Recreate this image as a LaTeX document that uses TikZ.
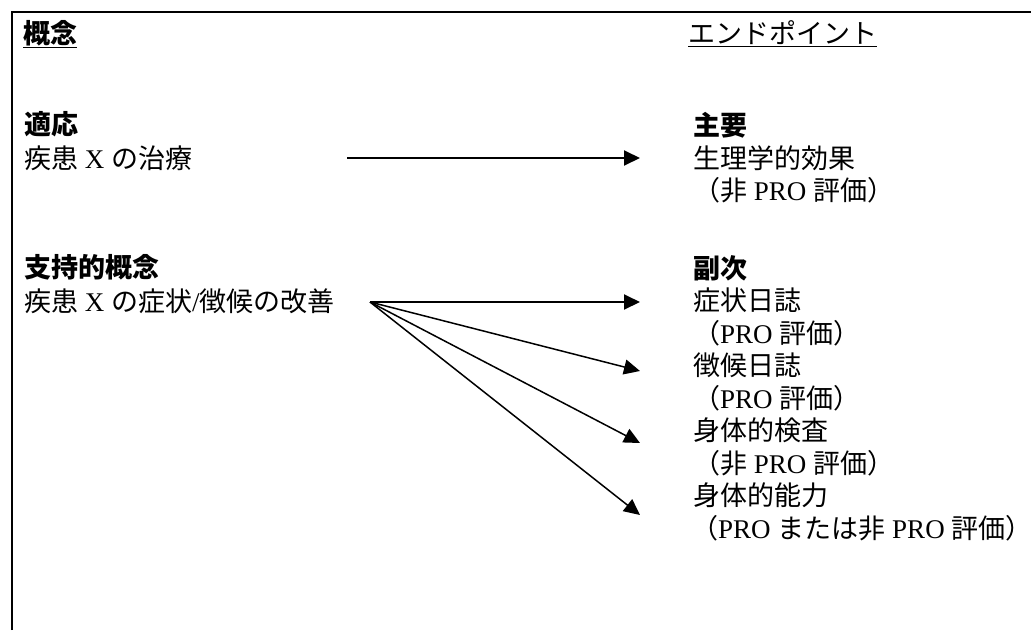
\documentclass[tikz,border=0pt]{standalone}
\usepackage{fontspec}
\setmainfont{Liberation Serif}
\newfontfamily\jp{Noto Sans CJK JP}
\usetikzlibrary{arrows.meta}
\begin{document}
\begin{tikzpicture}[x=1pt,y=-1pt,
  txt/.style={anchor=west,inner sep=0pt,font=\fontsize{27}{32}\selectfont},
  hd/.style={anchor=west,inner sep=0pt,font=\fontsize{27}{32}\selectfont\jp\bfseries},
  arr/.style={-{Triangle[length=16pt,width=15pt]},line width=1.9pt},
  darr/.style={-{Triangle[length=16pt,width=15pt]},line width=1.5pt},
  frameline/.style={line width=2.2pt}]
\useasboundingbox (0,0) rectangle (1031,630);
% frame
\draw[frameline] (12,630) -- (12,12) -- (1031,12);
% headers
\node[hd] (hconc) at (23,34) {\underline{概念}};
\node[txt] (hend) at (688,34) {\jp\underline{エンドポイント}};
% left column
\node[hd] (ind) at (24,124) {適応};
\node[txt] (indt) at (24,158) {{\jp 疾患} X {\jp の治療}};
\node[hd] (sup) at (24,267) {支持的概念};
\node[txt] (supt) at (24,301) {{\jp 疾患} X {\jp の症状}/{\jp 徴候の改善}};
% right column
\node[hd] (pri) at (693,125) {主要};
\node[txt] (pri1) at (693,158) {\jp 生理学的効果};
\node[txt] (pri2) at (693,190) {{\jp （非} PRO {\jp 評価）}};
\node[hd] (sec) at (693,268) {副次};
\node[txt] (s1) at (693,300) {\jp 症状日誌};
\node[txt] (s1b) at (693,333) {{\jp （}PRO {\jp 評価）}};
\node[txt] (s2) at (693,365) {\jp 徴候日誌};
\node[txt] (s2b) at (693,398) {{\jp （}PRO {\jp 評価）}};
\node[txt] (s3) at (693,430) {\jp 身体的検査};
\node[txt] (s3b) at (693,463) {{\jp （非} PRO {\jp 評価）}};
\node[txt] (s4) at (693,495) {\jp 身体的能力};
\node[txt] (s4b) at (691,528) {{\jp （}PRO {\jp または非} PRO {\jp 評価）}};
% arrows
\coordinate (a0) at (347,158);
\coordinate (b0) at (640,158);
\draw[arr] (a0) -- (b0);
\coordinate (c0) at (370,302);
\coordinate (d1) at (640,302);
\coordinate (d2) at (640,371);
\coordinate (d3) at (640,443);
\coordinate (d4) at (640,515);
\draw[arr] (c0) -- (d1);
\draw[darr] (c0) -- (d2);
\draw[darr] (c0) -- (d3);
\draw[darr] (c0) -- (d4);
\end{tikzpicture}
\end{document}
